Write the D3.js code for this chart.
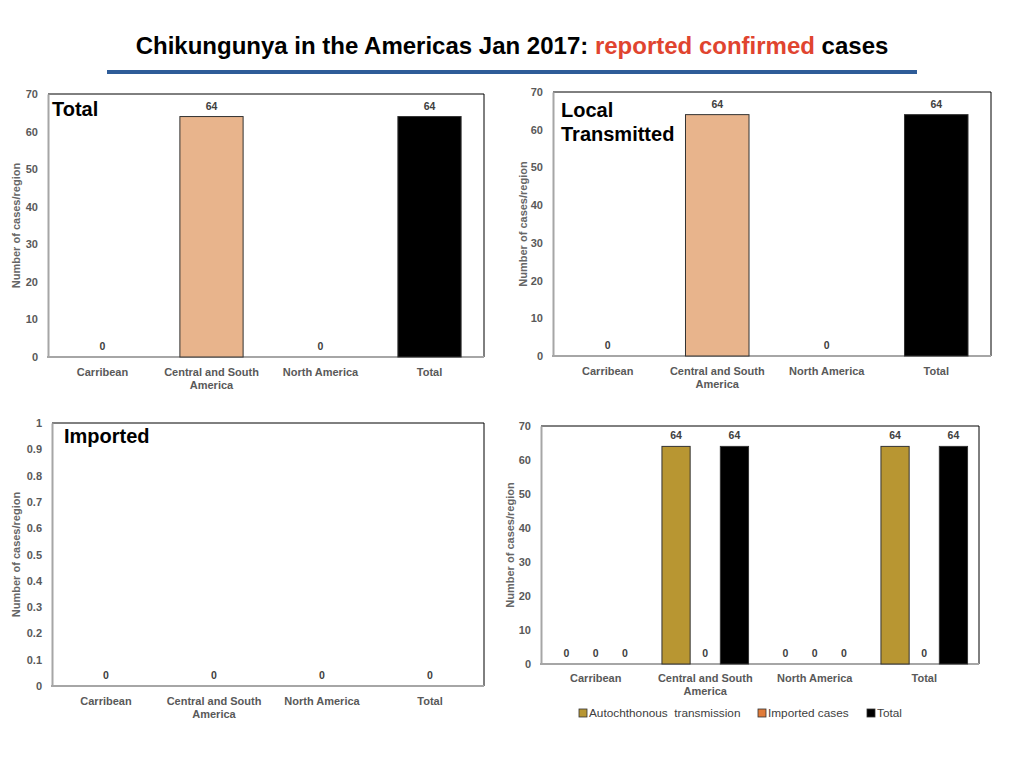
<!DOCTYPE html>
<html>
<head>
<meta charset="utf-8">
<script src="https://cdn.jsdelivr.net/npm/d3@7"></script>
<style>
  body { margin: 0; background: #fff; }
  svg { font-family: "Liberation Sans", Arial, Helvetica, sans-serif; }
</style>
</head>
<body>
<div id="svg"></div>
<script>
// data
var regions = ["Carribean", "Central and South America", "North America", "Total"];
var totalCases = [0, 64, 0, 64];
var localCases = [0, 64, 0, 64];
var importedCases = [0, 0, 0, 0];
var seriesNames = ["Autochthonous  transmission", "Imported cases", "Total"];
var autochthonous = [0, 64, 0, 64];
var imported = [0, 0, 0, 0];
var allCases = [0, 64, 0, 64];
var ticks70 = [0, 10, 20, 30, 40, 50, 60, 70];
var ticks1 = [0, 0.1, 0.2, 0.3, 0.4, 0.5, 0.6, 0.7, 0.8, 0.9, 1];

var barColors = ["#E8B48C", "#E8B48C", "#E8B48C", "#000000"];
var seriesColors = ["#B89632", "#E07B39", "#000000"];
var grey = "#595959";

var svg = d3.select("#svg")
    .append("svg")
    .attr("width", 1024)
    .attr("height", 768);

// title
var title = svg.append("text")
    .attr("x", 512)
    .attr("y", 54)
    .attr("text-anchor", "middle")
    .style("font-size", "24px")
    .style("font-weight", "bold");
title.append("tspan").text("Chikungunya in the Americas Jan 2017: ");
title.append("tspan").style("fill", "#E0442F").text("reported confirmed");
title.append("tspan").text(" cases");

svg.append("rect")
    .attr("x", 107).attr("y", 70)
    .attr("width", 810).attr("height", 4)
    .style("fill", "#2E5C98");

// frame, axis and tick labels for one panel
function drawFrame(box, y, ticks, fmt, titleOffset) {
    var g = svg.append("g");
    g.append("line")
        .attr("x1", box.left).attr("x2", box.right)
        .attr("y1", box.top).attr("y2", box.top)
        .style("stroke", "#000").style("stroke-width", 1);
    g.append("line")
        .attr("x1", box.right).attr("x2", box.right)
        .attr("y1", box.top).attr("y2", box.bottom)
        .style("stroke", "#000").style("stroke-width", 1);

    var yAxis = g.append("g")
        .attr("transform", "translate(" + box.left + ",0)")
        .call(d3.axisLeft(y).tickValues(ticks).tickFormat(fmt).tickSize(0).tickPadding(10));
    yAxis.select(".domain").style("stroke", "#A6A6A6").style("stroke-width", 2);
    yAxis.selectAll("text")
        .style("font-size", "11px")
        .style("font-weight", "bold")
        .style("fill", grey)
        .style("font-family", "Liberation Sans, Arial, sans-serif");

    g.append("line")
        .attr("x1", box.left - 1).attr("x2", box.right)
        .attr("y1", box.bottom).attr("y2", box.bottom)
        .style("stroke", "#A6A6A6").style("stroke-width", 2);

    g.append("text")
        .attr("transform", "translate(" + (box.left - titleOffset) + "," + ((box.top + box.bottom) / 2) + ") rotate(-90)")
        .attr("text-anchor", "middle")
        .attr("dy", "0.35em")
        .style("font-size", "11px")
        .style("font-weight", "bold")
        .style("fill", "#666")
        .text("Number of cases/region");
    return g;
}

function categoryLabels(g, x, box, gap) {
    regions.forEach(function(r) {
        var lines = r == "Central and South America" ? ["Central and South", "America"] : [r];
        var t = g.append("text")
            .attr("x", x(r) + x.bandwidth() / 2)
            .attr("y", box.bottom + gap)
            .attr("text-anchor", "middle")
            .style("font-size", "11px")
            .style("font-weight", "bold")
            .style("fill", grey);
        lines.forEach(function(l, i) {
            t.append("tspan")
                .attr("x", x(r) + x.bandwidth() / 2)
                .attr("dy", i == 0 ? 0 : 13)
                .text(l);
        });
    });
}

function simplePanel(box, values, maxY, ticks, fmt, names, nameY, titleOffset) {
    var y = d3.scaleLinear().domain([0, maxY]).range([box.bottom, box.top]);
    var x = d3.scaleBand().domain(regions).range([box.left, box.right])
        .paddingInner(0.42).paddingOuter(0.21);
    var g = drawFrame(box, y, ticks, fmt, titleOffset);

    g.selectAll(".bar")
        .data(values)
        .enter()
        .append("rect")
        .attr("x", function(d, i) { return x(regions[i]); })
        .attr("y", function(d) { return y(d); })
        .attr("width", x.bandwidth())
        .attr("height", function(d) { return box.bottom - y(d); })
        .style("fill", function(d, i) { return barColors[i]; })
        .style("stroke", function(d, i) { return d > 0 ? "#333" : "none"; })
        .style("stroke-width", 1);

    g.selectAll(".val")
        .data(values)
        .enter()
        .append("text")
        .attr("x", function(d, i) { return x(regions[i]) + x.bandwidth() / 2; })
        .attr("y", function(d) { return y(d) - 7; })
        .attr("text-anchor", "middle")
        .style("font-size", "10.5px")
        .style("font-weight", "bold")
        .style("fill", "#404040")
        .text(function(d) { return d; });

    categoryLabels(g, x, box, 19);

    names.forEach(function(n, i) {
        g.append("text")
            .attr("x", box.left + 4 + (box.nameDx || 0))
            .attr("y", nameY + i * 24)
            .style("font-size", "20px")
            .style("font-weight", "bold")
            .style("fill", "#000")
            .text(n);
    });
}

simplePanel({left: 48, top: 94, right: 484, bottom: 357}, totalCases, 70, ticks70, d3.format("d"), ["Total"], 116, 32);
simplePanel({left: 553, top: 92, right: 991, bottom: 356, nameDx: 4}, localCases, 70, ticks70, d3.format("d"), ["Local", "Transmitted"], 117, 30);
simplePanel({left: 52, top: 423, right: 484, bottom: 686, nameDx: 8}, importedCases, 1, ticks1, function(d) { return d == 0 || d == 1 ? d : d3.format(".1f")(d); }, ["Imported"], 443, 36);

// grouped panel
var box4 = {left: 541, top: 426, right: 979, bottom: 664};
var y4 = d3.scaleLinear().domain([0, 70]).range([box4.bottom, box4.top]);
var x4 = d3.scaleBand().domain(regions).range([box4.left, box4.right])
    .paddingInner(0.2).paddingOuter(0.1);
var x4s = d3.scaleBand().domain(seriesNames).range([0, x4.bandwidth()]);
var g4 = drawFrame(box4, y4, ticks70, d3.format("d"), 31);

var seriesData = [autochthonous, imported, allCases];
var groups = g4.selectAll(".grp")
    .data(regions)
    .enter()
    .append("g")
    .attr("transform", function(r) { return "translate(" + x4(r) + ",0)"; });

groups.selectAll("rect")
    .data(function(r, i) { return seriesNames.map(function(s, j) { return {s: s, v: seriesData[j][i], c: seriesColors[j]}; }); })
    .enter()
    .append("rect")
    .attr("x", function(d) { return x4s(d.s) + 0.5; })
    .attr("y", function(d) { return y4(d.v); })
    .attr("width", x4s.bandwidth() - 1)
    .attr("height", function(d) { return box4.bottom - y4(d.v); })
    .style("fill", function(d) { return d.c; })
    .style("stroke", function(d) { return d.v > 0 ? "#333" : "none"; });

groups.selectAll("text")
    .data(function(r, i) { return seriesNames.map(function(s, j) { return {s: s, v: seriesData[j][i]}; }); })
    .enter()
    .append("text")
    .attr("x", function(d) { return x4s(d.s) + x4s.bandwidth() / 2; })
    .attr("y", function(d) { return y4(d.v) - 7; })
    .attr("text-anchor", "middle")
    .style("font-size", "10.5px")
    .style("font-weight", "bold")
    .style("fill", "#404040")
    .text(function(d) { return d.v; });

categoryLabels(g4, x4, box4, 18);

// legend
var legendX = [579, 758, 867];
seriesNames.forEach(function(s, i) {
    g4.append("rect")
        .attr("x", legendX[i]).attr("y", 709)
        .attr("width", 8).attr("height", 8)
        .style("fill", seriesColors[i])
        .style("stroke", "#333").style("stroke-width", 0.8);
    g4.append("text")
        .attr("x", legendX[i] + 10)
        .attr("y", 717)
        .style("font-size", "11.8px")
        .style("fill", "#404040")
        .style("white-space", "pre")
        .attr("xml:space", "preserve")
        .text(s);
});
</script>
</body>
</html>
